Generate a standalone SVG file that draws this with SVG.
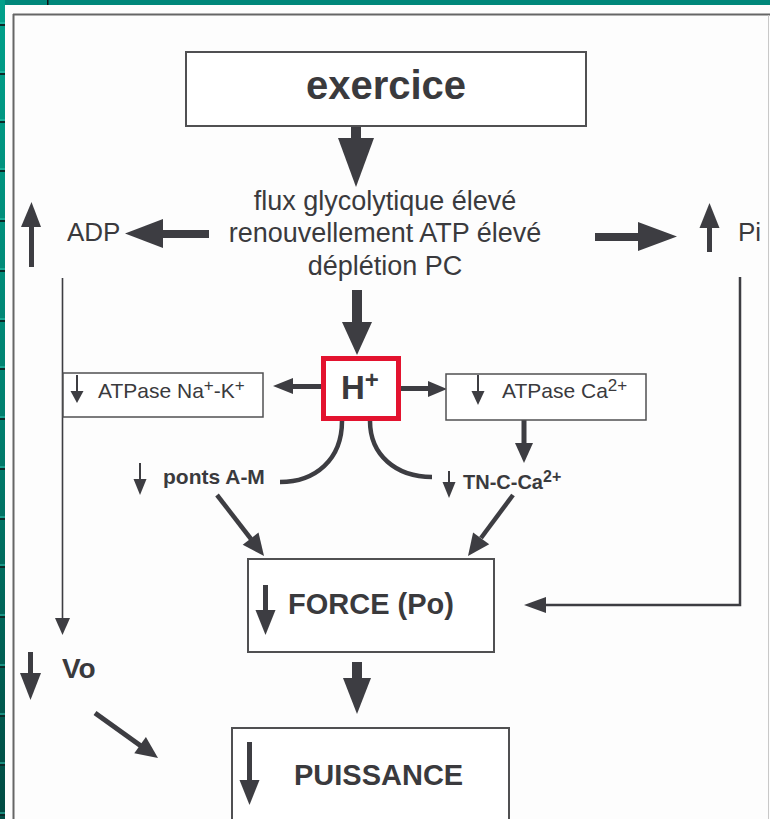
<svg xmlns="http://www.w3.org/2000/svg" width="770" height="819" viewBox="0 0 770 819">
<defs>
<linearGradient id="strip" x1="0" y1="0" x2="0" y2="1">
<stop offset="0" stop-color="#00a08a"/>
<stop offset="0.5" stop-color="#00806f"/>
<stop offset="1" stop-color="#004a42"/>
</linearGradient>
<style>
.t{font-family:"Liberation Sans",Arial,sans-serif;fill:#3a3a3d}
.b{font-weight:bold}
.ah{fill:#3d3d42}
.box{fill:#ffffff;stroke:#505052;stroke-width:2}
.thin{fill:#ffffff;stroke:#505052;stroke-width:1.5}
.ln{fill:none;stroke:#3d3d42}
.sep{stroke:#0a2a28;stroke-width:2}
.hl{stroke:#30c8b4;stroke-width:1}
</style>
</defs>
<rect x="0" y="0" width="770" height="819" fill="#fdfdfd"/>
<!-- page chrome -->
<rect x="0" y="0" width="770" height="5" fill="#00877a"/>
<rect x="47" y="0" width="1.5" height="5" fill="#111"/>
<rect x="0" y="0" width="5" height="819" fill="url(#strip)"/>
<g>
<line class="hl" x1="0" y1="23" x2="5" y2="23"/><line class="sep" x1="0" y1="25" x2="5" y2="25"/>
<line class="hl" x1="0" y1="72" x2="5" y2="72"/><line class="sep" x1="0" y1="74" x2="5" y2="74"/>
<line class="hl" x1="0" y1="120" x2="5" y2="120"/><line class="sep" x1="0" y1="122" x2="5" y2="122"/>
<line class="hl" x1="0" y1="169" x2="5" y2="169"/><line class="sep" x1="0" y1="171" x2="5" y2="171"/>
<line class="hl" x1="0" y1="219" x2="5" y2="219"/><line class="sep" x1="0" y1="221" x2="5" y2="221"/>
<line class="hl" x1="0" y1="269" x2="5" y2="269"/><line class="sep" x1="0" y1="271" x2="5" y2="271"/>
<line class="hl" x1="0" y1="319" x2="5" y2="319"/><line class="sep" x1="0" y1="321" x2="5" y2="321"/>
<line class="hl" x1="0" y1="367" x2="5" y2="367"/><line class="sep" x1="0" y1="369" x2="5" y2="369"/>
<line class="hl" x1="0" y1="417" x2="5" y2="417"/><line class="sep" x1="0" y1="419" x2="5" y2="419"/>
<line class="hl" x1="0" y1="467" x2="5" y2="467"/><line class="sep" x1="0" y1="469" x2="5" y2="469"/>
<line class="hl" x1="0" y1="517" x2="5" y2="517"/><line class="sep" x1="0" y1="519" x2="5" y2="519"/>
<line class="hl" x1="0" y1="565" x2="5" y2="565"/><line class="sep" x1="0" y1="567" x2="5" y2="567"/>
<line class="hl" x1="0" y1="615" x2="5" y2="615"/><line class="sep" x1="0" y1="617" x2="5" y2="617"/>
<line class="hl" x1="0" y1="665" x2="5" y2="665"/><line class="sep" x1="0" y1="667" x2="5" y2="667"/>
<line class="hl" x1="0" y1="714" x2="5" y2="714"/><line class="sep" x1="0" y1="716" x2="5" y2="716"/>
<line class="hl" x1="0" y1="763" x2="5" y2="763"/><line class="sep" x1="0" y1="765" x2="5" y2="765"/>
<line class="hl" x1="0" y1="813" x2="5" y2="813"/><line class="sep" x1="0" y1="815" x2="5" y2="815"/>
</g>
<line x1="13.5" y1="14" x2="13.5" y2="819" stroke="#666" stroke-width="2"/>
<line x1="13" y1="14.5" x2="770" y2="14.5" stroke="#666" stroke-width="2"/>
<line x1="768.5" y1="15" x2="768.5" y2="819" stroke="#c8c8c8" stroke-width="1"/>

<!-- connectors -->
<g id="connectors">
<rect class="ah" x="351" y="126" width="10" height="13"/>
<polygon class="ah" points="338,138 374,138 356,187"/>
<rect class="ah" x="162" y="230" width="47" height="8"/>
<polygon class="ah" points="163,219 163,248 125,233.5"/>
<rect class="ah" x="595" y="233" width="45" height="8"/>
<polygon class="ah" points="638,222 638,251 677,236.5"/>
<rect class="ah" x="352" y="290" width="10" height="33"/>
<polygon class="ah" points="342,322 372,322 357,355"/>
<rect class="ah" x="292" y="384" width="30" height="5"/>
<polygon class="ah" points="293,378 293,394 273,386"/>
<rect class="ah" x="400" y="386" width="29" height="5"/>
<polygon class="ah" points="428,381 428,397 447,389"/>
<rect class="ah" x="521.5" y="420" width="5" height="24"/>
<polygon class="ah" points="515,443 533,443 524,463"/>
<path class="ln" stroke-width="4.5" d="M342,421 C342,460 315,482 280,482"/>
<path class="ln" stroke-width="4.5" d="M370,421 C370,455 396,477 432,477"/>
<line class="ln" stroke-width="4.5" x1="217" y1="495" x2="251" y2="539"/>
<polygon class="ah" points="242.7,544.7 258.5,532.5 264,556"/>
<line class="ln" stroke-width="4.5" x1="513" y1="495" x2="481" y2="538"/>
<polygon class="ah" points="489.2,544.2 473.1,532.4 468,556"/>
<line class="ln" stroke-width="1.6" x1="62.5" y1="278" x2="62.5" y2="620"/>
<polygon class="ah" points="55,618 70,618 62.5,635"/>
<polyline class="ln" stroke-width="2.5" points="740,277 740,605 545,605"/>
<polygon class="ah" points="546,597 546,613 524,605"/>
<rect class="ah" x="352" y="662" width="10" height="17"/>
<polygon class="ah" points="343,678 371,678 357,714"/>
<line class="ln" stroke-width="5" x1="95" y1="713" x2="141" y2="746"/>
<polygon class="ah" points="134.3,753.3 145.9,737.1 158,758"/>
</g>

<g id="exercice">
<rect class="box" x="186" y="52" width="400" height="74" stroke-width="2.5"/>
<text class="t b" x="386" y="99" font-size="40" text-anchor="middle">exercice</text>
</g>

<g id="metabolisme">
<text class="t" x="385" y="210" font-size="27" text-anchor="middle">flux glycolytique élevé</text>
<text class="t" x="385" y="242" font-size="27" text-anchor="middle">renouvellement ATP élevé</text>
<text class="t" x="385" y="275" font-size="27" text-anchor="middle">déplétion PC</text>
</g>

<g id="adp">
<rect class="ah" x="29" y="226" width="5" height="41"/>
<polygon class="ah" points="21,227 41,227 31.5,202"/>
<text class="t" x="67" y="241" font-size="26">ADP</text>
</g>

<g id="pi">
<rect class="ah" x="707" y="227" width="5" height="25"/>
<polygon class="ah" points="699.5,228 719.5,228 709.5,203"/>
<text class="t" x="738" y="241" font-size="26">Pi</text>
</g>

<g id="hplus">
<rect x="323.5" y="358.5" width="75" height="60" fill="#ffffff" stroke="#e3132f" stroke-width="5"/>
<text class="t b" x="341" y="399" font-size="33">H<tspan font-size="24" dy="-11">+</tspan></text>
</g>

<g id="atpase-nak">
<rect class="thin" x="63" y="373" width="200" height="44"/>
<line class="ln" stroke-width="2" x1="77" y1="375" x2="77" y2="392"/>
<polygon class="ah" points="70.5,391 83.5,391 77,403"/>
<text class="t" x="98" y="398" font-size="21">ATPase Na<tspan font-size="17" dy="-7">+</tspan><tspan dy="7">-K</tspan><tspan font-size="17" dy="-7">+</tspan></text>
</g>

<g id="atpase-ca">
<rect class="thin" x="446" y="374" width="200" height="46"/>
<line class="ln" stroke-width="2" x1="478" y1="375" x2="478" y2="393"/>
<polygon class="ah" points="471.5,391 484.5,391 478,405"/>
<text class="t" x="502" y="398" font-size="21">ATPase Ca<tspan font-size="17" dy="-7">2+</tspan></text>
</g>

<g id="ponts">
<line class="ln" stroke-width="2" x1="140" y1="463" x2="140" y2="481"/>
<polygon class="ah" points="133.5,479 146.5,479 140,495"/>
<text class="t b" x="163" y="484" font-size="21">ponts A-M</text>
</g>

<g id="tnc">
<line class="ln" stroke-width="2" x1="449" y1="471" x2="449" y2="484"/>
<polygon class="ah" points="442.5,482 455.5,482 449,498"/>
<text class="t b" x="463" y="489" font-size="20">TN-C-Ca<tspan font-size="16" dy="-7">2+</tspan></text>
</g>

<g id="force">
<rect class="box" x="248" y="559" width="246" height="93"/>
<rect class="ah" x="263" y="585" width="5" height="26"/>
<polygon class="ah" points="255.5,610 275.5,610 265.5,635"/>
<text class="t b" x="288" y="614" font-size="29">FORCE (Po)</text>
</g>

<g id="vo">
<rect class="ah" x="28" y="652" width="5" height="22"/>
<polygon class="ah" points="20,673 41,673 30.5,700"/>
<text class="t b" x="62" y="678" font-size="28">Vo</text>
</g>

<g id="puissance">
<rect class="box" x="232" y="728" width="277" height="100"/>
<rect class="ah" x="247" y="742" width="5" height="39"/>
<polygon class="ah" points="239.5,780 259.5,780 249.5,805"/>
<text class="t b" x="294" y="785" font-size="29">PUISSANCE</text>
</g>
</svg>
